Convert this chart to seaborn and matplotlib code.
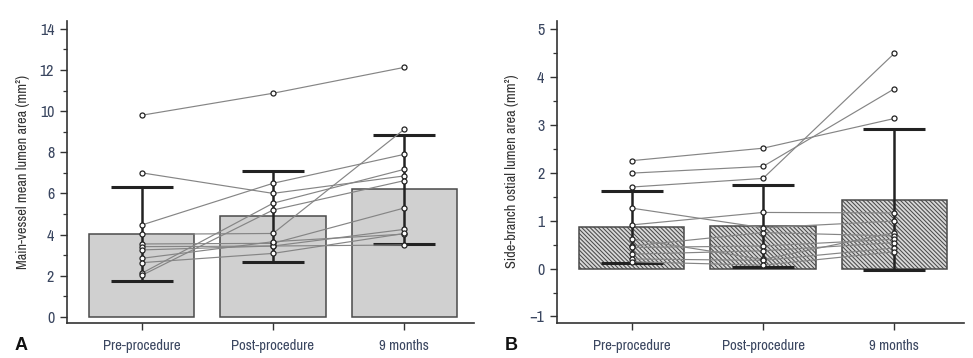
import matplotlib
matplotlib.use("Agg")
import matplotlib.pyplot as plt
from matplotlib import font_manager
from matplotlib.ticker import MultipleLocator
import seaborn as sns
import pandas as pd

# ---------------- data ----------------
categories = ["Pre-procedure", "Post-procedure", "9 months"]

# Panel A: main-vessel mean lumen area (mm2)
a_means = [4.02, 4.88, 6.20]
a_sd = [2.27, 2.20, 2.65]
a_pre = [9.80, 7.00, 4.46, 4.01, 2.11, 2.01, 3.54, 3.41, 3.25, 2.84, 2.63]
a_post = [10.87, 6.00, 6.49, 4.05, 5.52, 5.19, 3.57, 3.44, 3.44, 3.65, 3.08]
a_9m = [12.13, 6.85, 7.90, 9.12, 7.17, 6.62, 5.29, 4.25, 3.49, 4.02, 4.05]

# Panel B: side-branch ostial lumen area (mm2)
b_means = [0.87, 0.89, 1.44]
b_sd = [0.75, 0.85, 1.47]
b_pre = [2.25, 1.99, 1.70, 1.26, 0.91, 0.62, 0.47, 0.44, 0.30, 0.20, 0.14]
b_post = [2.51, 2.13, 1.88, 0.85, 1.17, 0.19, 0.75, 0.47, 0.37, 0.17, 0.07]
b_9m = [3.13, 3.75, 4.49, 0.99, 1.16, 0.75, 0.68, 0.61, 0.54, 0.43, 0.35]

# ---------------- style ----------------
sns.set_theme(style="ticks")
avail = sorted({f.name for f in font_manager.fontManager.ttflist})
narrow = [n for n in avail if ("Narrow" in n or "Condensed" in n)]
if narrow:
    fam = narrow[0]
    XS, YS, LS = 10.6, 11.5, 10.3
else:
    fam = "Liberation Sans"
    XS, YS, LS = 8.5, 9.5, 9.0
plt.rcParams["font.family"] = [fam, "DejaVu Sans"]
plt.rcParams["hatch.linewidth"] = 0.75
plt.rcParams["hatch.color"] = "#3a3a3a"

TICKCOL = "#3a4660"
AXCOL = "#333333"

fig = plt.figure(figsize=(9.73, 3.58), dpi=100)
axA = fig.add_axes([0.0686, 0.0986, 0.4185, 0.8436])
axB = fig.add_axes([0.5722, 0.0986, 0.4186, 0.8436])


def long_df(pre, post, m9):
    rows = []
    for i, vals in enumerate(zip(pre, post, m9)):
        for j, v in enumerate(vals):
            rows.append({"subject": i, "pos": j, "value": v})
    return pd.DataFrame(rows)


def draw_panel(ax, means, sd, pre, post, m9, hatch, ylim, major, minor, ylabel,
               letter, labx):
    bar_df = pd.DataFrame({"cat": categories, "mean": means})
    sns.barplot(data=bar_df, x="cat", y="mean", ax=ax, color="#d0d0d0",
                width=0.8, edgecolor="#4a4a4a", linewidth=1.1, errorbar=None,
                saturation=1, zorder=1)
    for p in ax.patches:
        p.set_facecolor("#d0d0d0" if hatch is None else "#d8d8d8")
        p.set_edgecolor("#4a4a4a")
        if hatch:
            p.set_hatch(hatch)
    ax.errorbar(range(len(categories)), means, yerr=sd, fmt="none",
                ecolor="#222222", elinewidth=1.8, capsize=22, capthick=2.2,
                zorder=3)
    df = long_df(pre, post, m9)
    sns.lineplot(data=df, x="pos", y="value", units="subject", estimator=None,
                 color="#858585", linewidth=0.85, ax=ax, zorder=4, legend=False)
    sns.scatterplot(data=df, x="pos", y="value", ax=ax, marker="o", s=13,
                    color="white", edgecolor="#222222", linewidth=0.9,
                    zorder=5, legend=False)

    ax.set_xlim(-0.57, 2.53)
    ax.set_ylim(*ylim)
    ax.set_xticks(range(len(categories)))
    ax.set_xticklabels(categories)
    ax.yaxis.set_major_locator(MultipleLocator(major))
    ax.yaxis.set_minor_locator(MultipleLocator(minor))
    ax.set_xlabel("")
    ax.set_ylabel(ylabel, fontsize=LS, color="#333333")
    ax.yaxis.set_label_coords(labx, 0.5)
    for s in ["top", "right"]:
        ax.spines[s].set_visible(False)
    for s in ["left", "bottom"]:
        ax.spines[s].set_color(AXCOL)
        ax.spines[s].set_linewidth(1.2)
    ax.tick_params(axis="both", which="major", length=5, width=1.0,
                   color=AXCOL, labelcolor=TICKCOL)
    ax.tick_params(axis="x", labelsize=XS, pad=7)
    ax.tick_params(axis="y", labelsize=YS, pad=4)
    ax.tick_params(axis="y", which="minor", length=3, width=0.9, color=AXCOL)
    ax.text(-0.112, -0.075, letter, transform=ax.transAxes, fontsize=13,
            fontweight="bold", color="#111111", ha="center", va="center",
            family=["Liberation Sans", "DejaVu Sans"])


draw_panel(axA, a_means, a_sd, a_pre, a_post, a_9m, None, (-0.29, 14.4), 2, 1,
           "Main-vessel mean lumen area (mm²)", "A", -0.090)
draw_panel(axB, b_means, b_sd, b_pre, b_post, b_9m, "\\\\\\\\\\\\\\\\",
           (-1.13, 5.17), 1, 0.5,
           "Side-branch ostial lumen area (mm²)", "B", -0.093)

fig.savefig("out.png", dpi=100)
